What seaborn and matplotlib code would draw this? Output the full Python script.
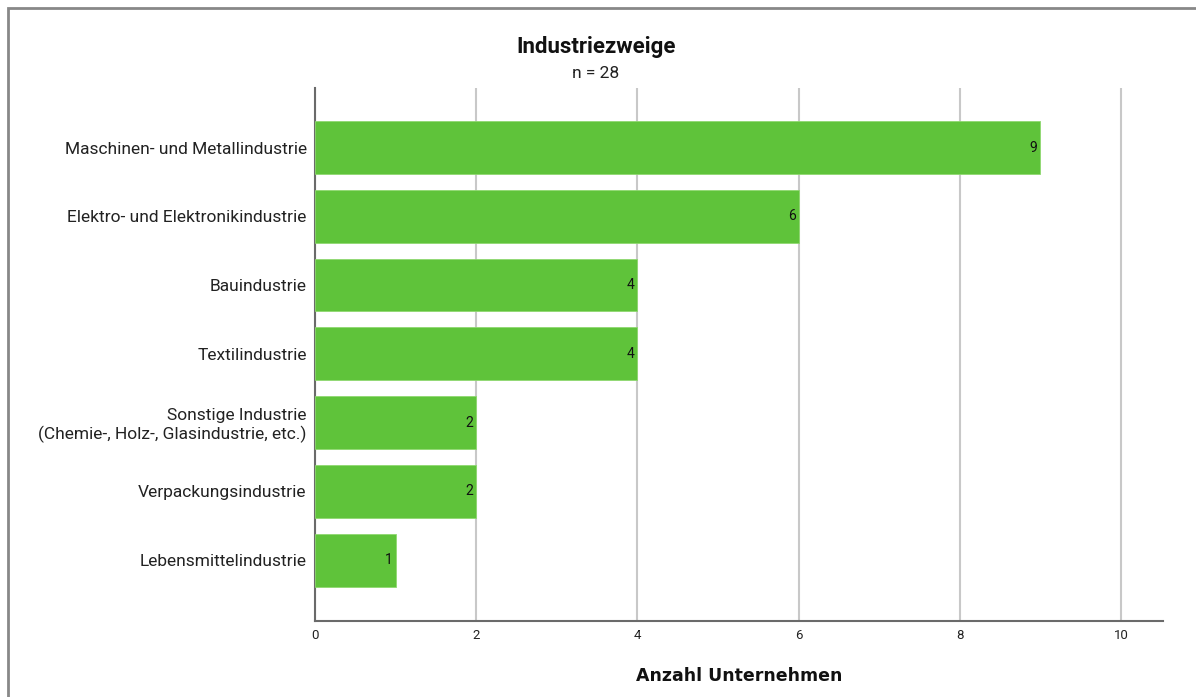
import matplotlib
matplotlib.use("Agg")
import matplotlib.pyplot as plt
import pandas as pd
import seaborn as sns
from matplotlib.patches import Rectangle

# data
branchen = ["Maschinen- und Metallindustrie",
            "Elektro- und Elektronikindustrie",
            "Bauindustrie",
            "Textilindustrie",
            "Sonstige Industrie\n(Chemie-, Holz-, Glasindustrie, etc.)",
            "Verpackungsindustrie",
            "Lebensmittelindustrie"]
anzahl = [9, 6, 4, 4, 2, 2, 1]
x_ticks = [0, 2, 4, 6, 8, 10]

df = pd.DataFrame({"branche": branchen, "anzahl": anzahl})

sns.set_style("white")
plt.rcParams["font.family"] = ["Roboto", "DejaVu Sans"]

fig = plt.figure(figsize=(11.96, 6.97), dpi=100)
ax = fig.add_axes([0.2634, 0.1090, 0.709, 0.7647])

sns.barplot(data=df, x="anzahl", y="branche", orient="h", color="#5fc33a",
            saturation=1, width=0.77, edgecolor="#8fd870", linewidth=0.6, ax=ax, zorder=3)

for i, v in enumerate(anzahl):
    ax.text(v - 0.04, i, str(v), ha="right", va="center", fontsize=10, color="#111111", zorder=4)

ax.set_xlim(0, 10.52)
ax.set_ylim(6.887, -0.865)
ax.set_xticks(x_ticks)
ax.set_xticklabels([str(t) for t in x_ticks], fontsize=9.5, color="#222222")
ax.tick_params(axis="y", labelsize=12.5, colors="#222222", length=0, pad=6)
ax.tick_params(axis="x", length=0, pad=6)
ax.xaxis.grid(True, color="#c8c8c8", linewidth=1.5)
ax.set_axisbelow(True)
ax.set_ylabel("")
ax.set_xlabel("Anzahl Unternehmen", fontsize=12.5, fontweight="bold", labelpad=18,
              family="DejaVu Sans", color="#111111")

for s in ["top", "right"]:
    ax.spines[s].set_visible(False)
for s in ["left", "bottom"]:
    ax.spines[s].set_color("#6a6a6a")
    ax.spines[s].set_linewidth(1.5)

fig.text(0.4983, 1 - 47 / 697, "Industriezweige", ha="center", va="center",
         fontsize=16, fontweight="bold", color="#111111")
fig.text(0.4983, 1 - 74 / 697, "n = 28", ha="center", va="center",
         fontsize=12.5, color="#222222")

# frame around the chart (cut off at the right and bottom edges)
fig.patches.append(Rectangle((8 / 1196, -0.05), 1.1, 1 - 8 / 697 + 0.05,
                             transform=fig.transFigure, fill=False,
                             edgecolor="#888888", linewidth=2))

fig.savefig("out.png", dpi=100)
